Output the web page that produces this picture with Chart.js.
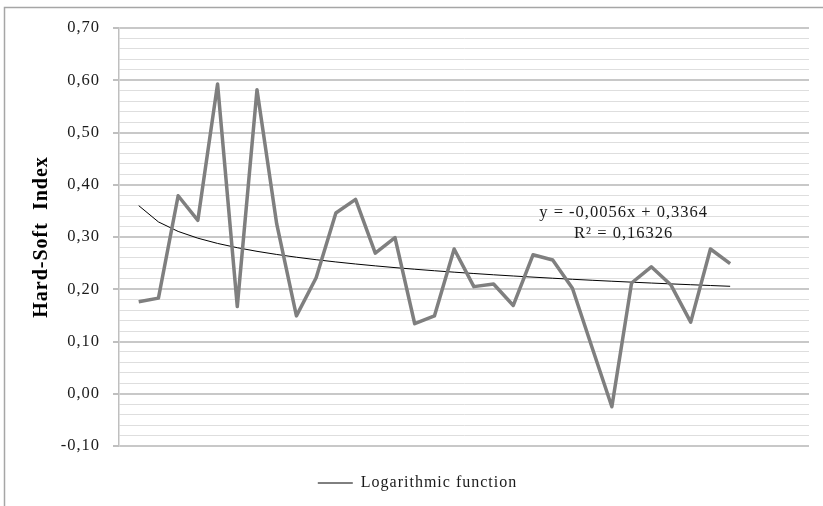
<!DOCTYPE html>
<html>
<head>
<meta charset="utf-8">
<script src="https://cdn.jsdelivr.net/npm/chart.js@4.4.1/dist/chart.umd.min.js"></script>
<style>
  html, body { margin: 0; padding: 0; background: #ffffff; }
  #wrap { width: 823px; height: 506px; position: relative; }
</style>
</head>
<body>
<div id="wrap"><canvas id="chart"></canvas></div>
<script>
// Observation number (x) and Hard-Soft Index (y)
const observation = [1, 2, 3, 4, 5, 6, 7, 8, 9, 10, 11, 12, 13, 14, 15, 16,
  17, 18, 19, 20, 21, 22, 23, 24, 25, 26, 27, 28, 29, 30, 31];
const hardSoftIndex = [0.176, 0.183, 0.379, 0.332, 0.593, 0.167, 0.582, 0.325,
  0.149, 0.222, 0.346, 0.372, 0.269, 0.299, 0.134, 0.149, 0.277, 0.205, 0.210,
  0.169, 0.266, 0.256, 0.202, 0.088, -0.025, 0.212, 0.243, 0.208, 0.137, 0.277, 0.249];

// Axis range and tick spacing
const yMin = -0.10;
const yMax = 0.70;
const yMinorStep = 0.02;
const xMax = 35;

// Equation box text
const equationLines = ['y = -0,0056x + 0,3364', 'R\u00B2 = 0,16326'];
const trendLabel = 'Logarithmic function';
const axisTitle = 'Hard-Soft  Index';

// Least-squares logarithmic trend: y = a ln(x) + b
function logFit(xs, ys) {
  const n = xs.length;
  const lx = xs.map(Math.log);
  const mx = lx.reduce((s, v) => s + v, 0) / n;
  const my = ys.reduce((s, v) => s + v, 0) / n;
  let sxy = 0, sxx = 0;
  for (let i = 0; i < n; i++) {
    sxy += (lx[i] - mx) * (ys[i] - my);
    sxx += (lx[i] - mx) * (lx[i] - mx);
  }
  const a = sxy / sxx;
  return { a, b: my - a * mx };
}
const fit = logFit(observation, hardSoftIndex);

const seriesPoints = observation.map((x, i) => ({ x, y: hardSoftIndex[i] }));
const trendPoints = observation.map(x => ({ x, y: fit.a * Math.log(x) + fit.b }));

const isMajor = v => Math.round(v * 100) % 10 === 0;
const fmt = v => {
  const r = Math.round(v * 100) / 100;
  return (r === 0 ? 0 : r).toFixed(2).replace('.', ',');
};

const SERIF = "'Liberation Serif', 'Times New Roman', serif";

// Slightly wider text tracking for all canvas text
const spacingPlugin = {
  id: 'spacing',
  beforeUpdate(chart) { chart.ctx.letterSpacing = '1px'; },
  beforeDraw(chart) { chart.ctx.letterSpacing = '1px'; }
};

// Outer frame of the chart
const framePlugin = {
  id: 'frame',
  beforeDraw(chart) {
    const ctx = chart.ctx;
    ctx.save();
    ctx.strokeStyle = '#a6a6a6';
    ctx.lineWidth = 1.5;
    ctx.strokeRect(4.5, 7.5, chart.width + 20, chart.height + 20);
    ctx.restore();
  }
};

// Trend equation and R² label
const equationPlugin = {
  id: 'equation',
  afterDatasetsDraw(chart) {
    const ctx = chart.ctx;
    const xs = chart.scales.x, ys = chart.scales.y;
    const cx = xs.getPixelForValue(25.6);
    ctx.save();
    ctx.letterSpacing = '1px';
    ctx.font = '16.5px ' + SERIF;
    ctx.fillStyle = '#1a1a1a';
    ctx.textAlign = 'center';
    ctx.textBaseline = 'alphabetic';
    ctx.fillText(equationLines[0], cx, ys.getPixelForValue(0.3385));
    ctx.fillText(equationLines[1], cx, ys.getPixelForValue(0.298));
    ctx.restore();
  }
};

new Chart(document.getElementById('chart'), {
  type: 'line',
  data: {
    datasets: [
      {
        label: 'Hard-Soft Index',
        data: seriesPoints,
        borderColor: '#7f7f7f',
        borderWidth: 3.5,
        borderJoinStyle: 'round',
        pointRadius: 0,
        fill: false,
        tension: 0
      },
      {
        label: trendLabel,
        data: trendPoints,
        borderColor: '#000000',
        borderWidth: 1,
        pointRadius: 0,
        pointStyle: 'line',
        fill: false,
        tension: 0
      }
    ]
  },
  options: {
    responsive: true,
    maintainAspectRatio: false,
    animation: false,
    layout: { padding: { top: 28, right: 14, left: 26, bottom: 5 } },
    plugins: {
      tooltip: { enabled: false },
      legend: {
        position: 'bottom',
        labels: {
          filter: item => item.text === trendLabel,
          usePointStyle: true,
          pointStyle: 'line',
          pointStyleWidth: 35,
          color: '#1a1a1a',
          font: { family: SERIF, size: 16 },
          padding: 10
        }
      }
    },
    scales: {
      x: {
        type: 'linear',
        min: 0,
        max: xMax,
        grid: { display: false },
        border: { display: false },
        ticks: { display: false },
        afterFit(scale) { scale.height = 19; }
      },
      y: {
        min: yMin,
        max: yMax,
        afterFit(scale) { scale.width = 93; },
        ticks: {
          stepSize: yMinorStep,
          autoSkip: false,
          padding: 13,
          color: '#1a1a1a',
          font: { family: SERIF, size: 16.5 },
          callback: v => (isMajor(v) ? fmt(v) : '')
        },
        grid: {
          color: c => (isMajor(c.tick.value) ? '#c8c8c8' : '#dedede'),
          lineWidth: c => (isMajor(c.tick.value) ? 2 : 1),
          tickColor: c => (isMajor(c.tick.value) ? '#bfbfbf' : 'rgba(0,0,0,0)'),
          tickLength: 6,
          drawTicks: true
        },
        border: { display: true, color: '#bfbfbf', width: 1.5 },
        title: {
          display: true,
          text: axisTitle,
          color: '#000000',
          font: { family: SERIF, size: 20, weight: 'bold' },
          padding: { top: 4, bottom: 0 }
        }
      }
    }
  },
  plugins: [spacingPlugin, framePlugin, equationPlugin]
});
</script>
</body>
</html>
